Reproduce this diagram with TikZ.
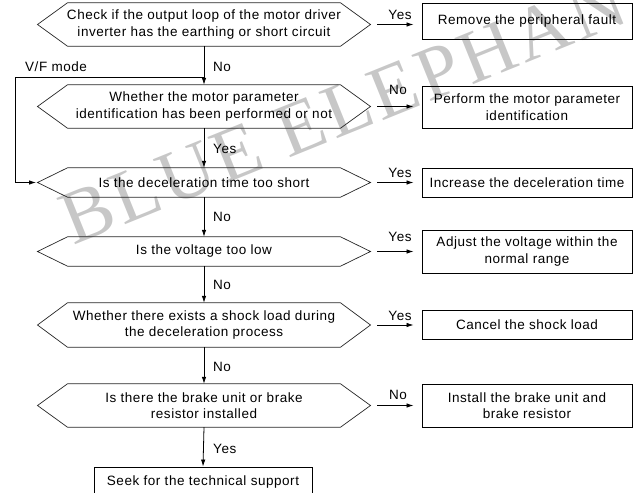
\documentclass[tikz,border=0pt]{standalone}
\usepackage{fontspec}
\setmainfont{Liberation Sans}[LetterSpace=4.0]
\newfontfamily\wmfont{Liberation Serif}[LetterSpace=5.0]
\usetikzlibrary{arrows.meta,calc}
\definecolor{wmgray}{gray}{0.78}
\begin{document}
\begin{tikzpicture}[x=1pt,y=-1pt,
  every node/.style={font=\fontsize{13.5}{16.5}\selectfont, inner sep=0pt},
  hexbox/.style={minimum width=273pt, align=center},
  resbox/.style={draw, line width=0.9pt, minimum width=210pt, align=center},
  hexline/.style={line width=0.7pt, black!85},
  arr/.style={-{Latex[length=7pt,width=4.5pt]}, line width=0.8pt},
  lbl/.style={anchor=west},
  rlbl/.style={anchor=center},
]
\useasboundingbox (0,0) rectangle (639,492);
\clip (0,0) rectangle (639,492);

% watermark
\node[font=\wmfont\fontsize{76}{76}\selectfont, text=wmgray, rotate=22, anchor=base west] (wm) at (73,246) {BLUE ELEPHANT};

% decision hexagons
\node[hexbox, minimum height=43pt] (h1) at (204,24.5) {Check if the output loop of the motor driver\\inverter has the earthing or short circuit};
\node[hexbox, minimum height=43pt] (h2) at (204,106.5) {Whether the motor parameter\\identification has been performed or not};
\node[hexbox, minimum height=29pt] (h3) at (204,182.5) {Is the deceleration time too short};
\node[hexbox, minimum height=29pt] (h4) at (204,251.5) {Is the voltage too low};
\node[hexbox, minimum height=44pt] (h5) at (204,325) {Whether there exists a shock load during\\the deceleration process};
\node[hexbox, minimum height=43pt] (h6) at (204,405.5) {Is there the brake unit or brake\\resistor installed};

\foreach \h in {h1,h2,h3,h4,h5,h6}{
  \draw[hexline] ([xshift=-136.5pt]\h.north) -- ([xshift=-166.5pt]\h.center) -- ([xshift=-136.5pt]\h.south)
    -- ([xshift=136.5pt]\h.south) -- ([xshift=166.5pt]\h.center) -- ([xshift=136.5pt]\h.north) -- cycle;
}

% result boxes
\node[resbox, minimum height=36pt] (b1) at (527,21) {Remove the peripheral fault};
\node[resbox, minimum height=42pt] (b2) at (527,107) {Perform the motor parameter\\identification};
\node[resbox, minimum height=29pt] (b3) at (527,182.5) {Increase the deceleration time};
\node[resbox, minimum height=43pt] (b4) at (527,251.5) {Adjust the voltage within the\\normal range};
\node[resbox, minimum height=29pt] (b5) at (527,324.5) {Cancel the shock load};
\node[resbox, minimum height=43pt] (b6) at (527,405.5) {Install the brake unit and\\brake resistor};
\node[resbox, minimum width=218pt, minimum height=30pt] (b7) at (203,482) {Seek for the technical support};

% right arrows
\foreach \h/\b in {h1/b1,h2/b2,h3/b3,h4/b4,h5/b5,h6/b6}{
  \draw[arr] ([xshift=173pt]\h.center) -- ([xshift=-8pt]\h.center -| \b.west);
}
\node[rlbl] (y1) at (400,15) {Yes};
\node[rlbl] (n2) at (398,90) {No};
\node[rlbl] (y3) at (400,173) {Yes};
\node[rlbl] (y4) at (400,237) {Yes};
\node[rlbl] (y5) at (400,316) {Yes};
\node[rlbl] (n6) at (398,395) {No};

% vertical arrows
\coordinate (vf) at (204,77);
\coordinate (vfl) at (15,77);
\draw[arr] (h1.south) -- (h2.north);
\draw[arr] (h2.south) -- (h3.north);
\draw[arr] (h3.south) -- (h4.north);
\draw[arr] (h4.south) -- (h5.north);
\draw[arr] (h5.south) -- (h6.north);
\draw[arr] (h6.south) -- (b7.north);
\draw[arr] (vf) -- (vfl) |- ([xshift=-168pt]h3.center);

\node[lbl] (lvf) at (25,67) {V/F mode};
\node[lbl] (l1) at (213,67) {No};
\node[lbl] (l2) at (213,149) {Yes};
\node[lbl] (l3) at (213,217) {No};
\node[lbl] (l4) at (213,285) {No};
\node[lbl] (l5) at (213,367) {No};
\node[lbl] (l6) at (213,449) {Yes};
\end{tikzpicture}
\end{document}
